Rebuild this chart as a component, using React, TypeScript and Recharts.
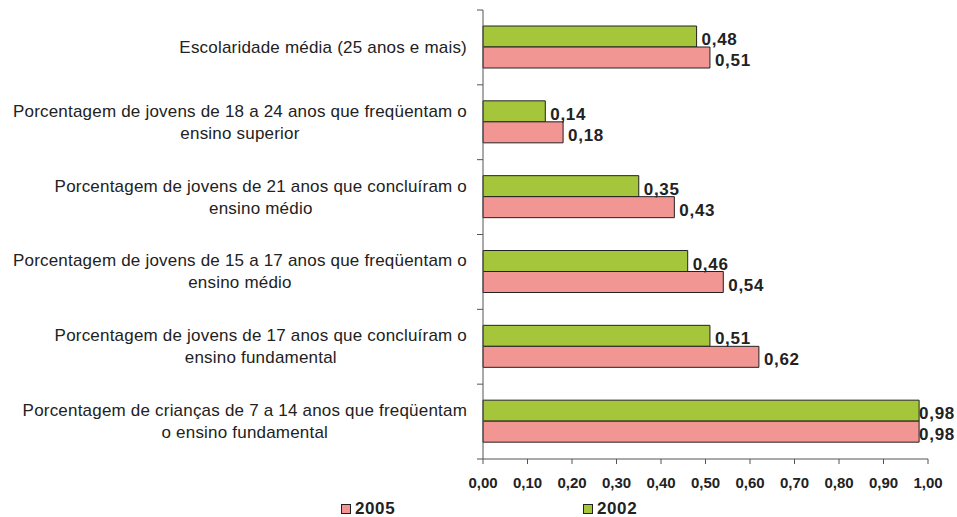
import { BarChart, Bar, XAxis, YAxis, LabelList, Legend } from 'recharts';

// categorias de cima para baixo, cada uma já quebrada em linhas
const categoryLines: string[][] = [
  ['Escolaridade média (25 anos e mais)'],
  ['Porcentagem de jovens de 18 a 24 anos que freqüentam o', 'ensino superior'],
  ['Porcentagem de jovens de 21 anos que concluíram o', 'ensino médio'],
  ['Porcentagem de jovens de 15 a 17 anos que freqüentam o', 'ensino médio'],
  ['Porcentagem de jovens de 17 anos que concluíram o', 'ensino fundamental'],
  ['Porcentagem de crianças de 7 a 14 anos que freqüentam', 'o ensino fundamental'],
];
const values2002 = [0.48, 0.14, 0.35, 0.46, 0.51, 0.98];
const values2005 = [0.51, 0.18, 0.43, 0.54, 0.62, 0.98];
const xTicks = [0, 0.1, 0.2, 0.3, 0.4, 0.5, 0.6, 0.7, 0.8, 0.9, 1.0];
const legendItems = [
  { name: '2005', color: '#f19693' },
  { name: '2002', color: '#a5c63b' },
];

const data = categoryLines.map((lines, i) => ({
  category: lines.join(' '),
  v2002: values2002[i],
  v2005: values2005[i],
}));

const FONT = 'Arial, "Liberation Sans", Helvetica, sans-serif';
const AXIS_COLOR = '#555';
const TEXT_COLOR = '#222';
const CAT_SIZE = 17;
const CAT_SPACING = 0.2;
const LABEL_SIZE = 17;
const LABEL_SPACING = 0.7;
const CHART_W = 957;

let measureCtx: CanvasRenderingContext2D | null = null;
function measure(text: string, font: string, spacing: number) {
  if (!measureCtx) measureCtx = document.createElement('canvas').getContext('2d');
  if (!measureCtx) return text.length * 8;
  measureCtx.font = font;
  return measureCtx.measureText(text).width + spacing * text.length;
}

const fmt = (v: number) => v.toFixed(2).replace('.', ',');

function CategoryTick(props: any) {
  const { x, y, payload, index, visibleTicksCount } = props;
  const lines = categoryLines[index] || [String(payload.value)];
  const half = payload.offset || 37.4;
  const axisX = x + 16;
  const font = `${CAT_SIZE}px ${FONT}`;
  const blockW = Math.max(...lines.map(l => measure(l, font, CAT_SPACING)));
  const cx = x - blockW / 2;
  const lineH = 22;
  const startY = y - ((lines.length - 1) * lineH) / 2;
  return (
    <g>
      <line x1={axisX - 6} x2={axisX} y1={y - half} y2={y - half} stroke={AXIS_COLOR} />
      {index === visibleTicksCount - 1 && (
        <line x1={axisX - 6} x2={axisX} y1={y + half} y2={y + half} stroke={AXIS_COLOR} />
      )}
      <text
        textAnchor="middle"
        fontFamily={FONT}
        fontSize={CAT_SIZE}
        letterSpacing={CAT_SPACING}
        fill={TEXT_COLOR}
      >
        {lines.map((l, i) => (
          <tspan key={i} x={cx} y={startY + i * lineH} dominantBaseline="central">
            {l}
          </tspan>
        ))}
      </text>
    </g>
  );
}

function ValueLabel(props: any) {
  const { x, y, width, height, value } = props;
  const text = fmt(value);
  const w = measure(text, `bold ${LABEL_SIZE}px ${FONT}`, LABEL_SPACING);
  // como no Excel: rótulo encostado no fim da barra quando não cabe
  const lx = Math.min(x + width + 5, Math.max(x + width, CHART_W - 4 - w));
  return (
    <text
      x={lx}
      y={y + height / 2 + 3}
      dominantBaseline="central"
      fontFamily={FONT}
      fontSize={LABEL_SIZE}
      letterSpacing={LABEL_SPACING}
      fontWeight="bold"
      fill={TEXT_COLOR}
    >
      {text}
    </text>
  );
}

function LegendContent() {
  return (
    <div style={{ position: 'relative', height: 28, fontFamily: FONT }}>
      {legendItems.map((item, i) => (
        <div
          key={item.name}
          style={{
            position: 'absolute',
            left: i === 0 ? 341 : 583,
            top: 11,
            display: 'flex',
            alignItems: 'center',
            fontSize: 17,
            lineHeight: '17px',
            letterSpacing: 0.6,
            fontWeight: 'bold',
            color: TEXT_COLOR,
          }}
        >
          <span
            style={{
              display: 'inline-block',
              width: 8,
              height: 8,
              background: item.color,
              border: '1px solid #222',
              marginRight: 4,
            }}
          />
          {item.name}
        </div>
      ))}
    </div>
  );
}

export default function App() {
  return (
    <div style={{ position: 'absolute', left: 0, top: 0, background: '#fff' }}>
      <BarChart
        width={CHART_W}
        height={517}
        data={data}
        layout="vertical"
        margin={{ top: 10, right: 29, left: 0, bottom: 0 }}
        barGap={0}
        barSize={21}
      >
        <XAxis
          type="number"
          domain={[0, 1]}
          ticks={xTicks}
          tickFormatter={fmt}
          height={30}
          stroke={AXIS_COLOR}
          tickSize={5}
          tickMargin={13}
          tick={{ fontFamily: FONT, fontSize: 15, fontWeight: 'bold', fill: TEXT_COLOR }}
          interval={0}
        />
        <YAxis
          type="category"
          dataKey="category"
          width={483}
          stroke={AXIS_COLOR}
          tickLine={false}
          tickSize={6}
          tickMargin={10}
          tick={<CategoryTick />}
          interval={0}
        />
        <Legend verticalAlign="bottom" height={28} content={<LegendContent />} />
        <Bar dataKey="v2002" name="2002" fill="#a5c63b" stroke="#222" strokeWidth={1} isAnimationActive={false}>
          <LabelList dataKey="v2002" content={<ValueLabel />} />
        </Bar>
        <Bar dataKey="v2005" name="2005" fill="#f19693" stroke="#222" strokeWidth={1} isAnimationActive={false}>
          <LabelList dataKey="v2005" content={<ValueLabel />} />
        </Bar>
      </BarChart>
    </div>
  );
}
